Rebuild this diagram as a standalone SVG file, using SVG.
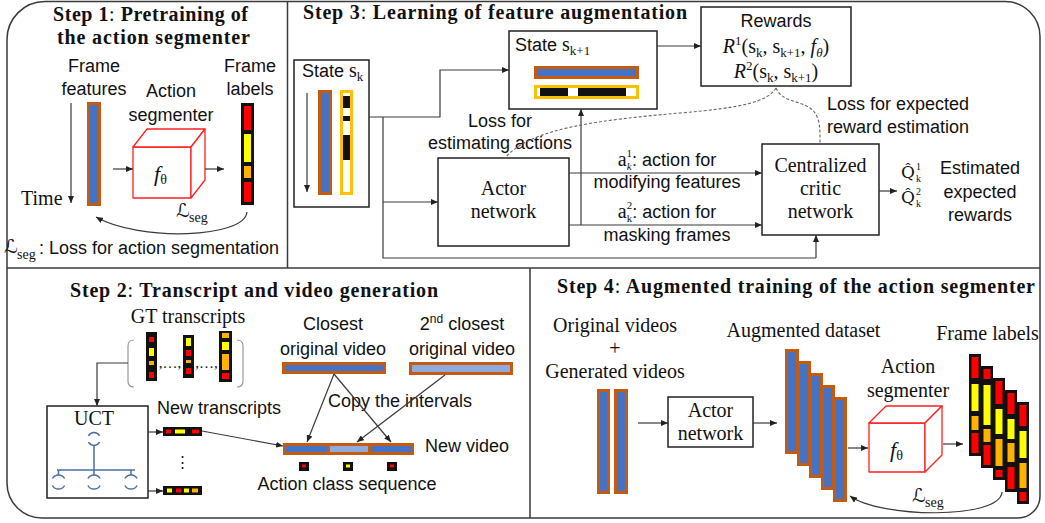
<svg xmlns="http://www.w3.org/2000/svg" width="1045" height="523" viewBox="0 0 1045 523">
<style>
  .sans{font-family:"Liberation Sans",Arial,sans-serif;font-size:18px;fill:#111}
  .serif{font-family:"Liberation Serif","Times New Roman",serif;font-size:20px;fill:#111}
  .title{font-family:"Liberation Serif","Times New Roman",serif;font-size:20px;font-weight:bold;fill:#111}
  .scr{font-family:"DejaVu Serif","DejaVu Sans",serif;fill:#111}
  .sub{font-family:"Liberation Serif","Times New Roman",serif;font-size:13px;fill:#111}
  .tiny{font-family:"Liberation Serif","Times New Roman",serif;font-size:10px;fill:#111}
  .mid{text-anchor:middle}
  .frame{fill:none;stroke:#3a3a3a;stroke-width:1.5}
  .box{fill:#fff;stroke:#222;stroke-width:1.5}
  .conn{fill:none;stroke:#3a3a3a;stroke-width:1.2}
  .arr{marker-end:url(#ah)}
  .dash{fill:none;stroke:#666;stroke-width:1.1;stroke-dasharray:3 2}
  .feat{fill:#4472C4;stroke:#C55A11;stroke-width:3}
  .feat2{fill:#8FAADC;stroke:#C55A11;stroke-width:3}
  .mask{fill:#fff;stroke:#FFC000;stroke-width:3}
  .blk{fill:#111}
  .r{fill:#FF0000}.y{fill:#FFFF00}.o{fill:#FFB300}
  .cube{fill:#fff;stroke:#FF2020;stroke-width:1.3;stroke-linejoin:round}
  .tree{fill:none;stroke:#4A6EA8;stroke-width:1.5}
  .brk{fill:none;stroke:#999;stroke-width:1.2}
</style>
<defs>
  <marker id="ah" markerWidth="7" markerHeight="6" refX="7" refY="3" orient="auto" markerUnits="userSpaceOnUse">
    <path d="M0,0 L7,3 L0,6 z" fill="#222"/>
  </marker>
</defs>

<!-- outer frame and panel dividers -->
<g id="panels">
  <path class="frame" d="M45 1.5 H1005 A35 35 0 0 1 1040 36.5 V496 A22 22 0 0 1 1018 518 H42 A35 35 0 0 1 7 483 V39.5 A38 38 0 0 1 45 1.5 Z"/>
  <line class="frame" x1="287.5" y1="1.5" x2="287.5" y2="268"/>
  <line class="frame" x1="7" y1="268" x2="1040" y2="268"/>
  <line class="frame" x1="530" y1="268" x2="530" y2="518"/>
</g>

<!-- ===== Step 1 ===== -->
<g id="step1-title">
  <text class="title" x="53" y="21" textLength="195">Step 1<tspan font-weight="normal">:</tspan> Pretraining of</text>
  <text class="title" x="57" y="44" textLength="193">the action segmenter</text>
</g>
<g id="step1-features">
  <text class="sans mid" x="94" y="72">Frame</text>
  <text class="sans mid" x="94" y="95">features</text>
  <rect class="feat" x="88.5" y="103.5" width="11" height="101"/>
  <text class="serif" x="21" y="205">Time</text>
</g>
<g id="step1-segmenter">
  <text class="sans mid" x="171" y="97">Action</text>
  <text class="sans mid" x="171" y="121">segmenter</text>
  <rect class="cube" x="133" y="147" width="58" height="51"/>
  <polygon class="cube" points="133,147 147,129 205,129 191,147"/>
  <polygon class="cube" points="191,147 205,129 205,180 191,198"/>
  <text class="serif" x="154" y="181" style="font-size:22px;font-style:italic">f<tspan style="font-style:normal;font-size:14px" dy="3">θ</tspan></text>
</g>
<g id="step1-labels">
  <text class="sans mid" x="250" y="72">Frame</text>
  <text class="sans mid" x="250" y="95">labels</text>
  <rect class="blk" x="241" y="103" width="13" height="102"/>
  <rect class="r" x="244" y="106" width="7" height="24"/>
  <rect class="y" x="244" y="134" width="7" height="28"/>
  <rect class="o" x="244" y="166" width="7" height="12"/>
  <rect class="r" x="244" y="182" width="7" height="20"/>
</g>
<g id="step1-loss">
  <text class="scr" x="176" y="217" style="font-size:19px">ℒ</text>
  <text class="sub" x="189" y="222" style="font-size:14px">seg</text>
  <text class="scr" x="4" y="253" style="font-size:19px">ℒ</text>
  <text class="sub" x="17" y="259" style="font-size:14px">seg</text>
  <text class="sans" x="39" y="254">: Loss for action segmentation</text>
</g>

<!-- ===== Step 3 ===== -->
<g id="step3-title">
  <text class="title" x="303" y="19" textLength="384">Step 3<tspan font-weight="normal">:</tspan> Learning of feature augmentation</text>
</g>
<g id="state-k">
  <rect class="box" x="294" y="60" width="75" height="147"/>
  <text class="sans" x="302" y="77">State <tspan style="font-family:'Liberation Serif',serif;font-size:20px">s</tspan><tspan style="font-family:'Liberation Serif',serif;font-size:13px" dy="4">k</tspan></text>
  <rect class="feat" x="319.5" y="91.5" width="11" height="102"/>
  <rect class="mask" x="341.5" y="91.5" width="10" height="102"/>
  <rect class="blk" x="343" y="96" width="7" height="12"/>
  <rect class="blk" x="343" y="116" width="7" height="5"/>
  <rect class="blk" x="343" y="135" width="7" height="25"/>
</g>
<g id="state-k1">
  <rect class="box" x="509" y="31" width="148" height="78"/>
  <text class="sans" x="515" y="51">State <tspan style="font-family:'Liberation Serif',serif;font-size:20px">s</tspan><tspan style="font-family:'Liberation Serif',serif;font-size:13px" dy="4">k+1</tspan></text>
  <rect class="feat" x="535.5" y="67.5" width="102" height="10"/>
  <rect class="mask" x="535.5" y="86.5" width="102" height="11"/>
  <rect class="blk" x="540" y="88" width="28" height="8"/>
  <rect class="blk" x="578" y="88" width="48" height="8"/>
</g>
<g id="rewards">
  <rect class="box" x="701" y="7" width="150" height="79"/>
  <text class="sans mid" x="776" y="27">Rewards</text>
  <text class="serif mid" x="776" y="53"><tspan style="font-style:italic">R</tspan><tspan style="font-size:13px" dy="-8">1</tspan><tspan dy="8">(s</tspan><tspan style="font-size:13px" dy="4">k</tspan><tspan dy="-4">, s</tspan><tspan style="font-size:13px" dy="4">k+1</tspan><tspan dy="-4">, </tspan><tspan style="font-style:italic">f</tspan><tspan style="font-size:13px;font-style:italic" dy="4">θ</tspan><tspan dy="-4">)</tspan></text>
  <text class="serif mid" x="776" y="78"><tspan style="font-style:italic">R</tspan><tspan style="font-size:13px" dy="-8">2</tspan><tspan dy="8">(s</tspan><tspan style="font-size:13px" dy="4">k</tspan><tspan dy="-4">, s</tspan><tspan style="font-size:13px" dy="4">k+1</tspan><tspan dy="-4">)</tspan></text>
</g>
<g id="actor">
  <rect class="box" x="438" y="158" width="131" height="88"/>
  <text class="serif mid" x="503.5" y="195">Actor</text>
  <text class="serif mid" x="503.5" y="218">network</text>
</g>
<g id="critic">
  <rect class="box" x="762" y="144" width="117" height="91"/>
  <text class="serif mid" x="820.5" y="172">Centralized</text>
  <text class="serif mid" x="820.5" y="195">critic</text>
  <text class="serif mid" x="820.5" y="218">network</text>
</g>
<g id="estimates">
  <text class="scr" x="901" y="178" style="font-size:17px">Q̂</text>
  <text class="tiny" x="916" y="170">1</text>
  <text class="tiny" x="916" y="182">k</text>
  <text class="scr" x="901" y="203" style="font-size:17px">Q̂</text>
  <text class="tiny" x="916" y="195">2</text>
  <text class="tiny" x="916" y="207">k</text>
  <text class="sans mid" x="980" y="174">Estimated</text>
  <text class="sans mid" x="980" y="198">expected</text>
  <text class="sans mid" x="980" y="221">rewards</text>
</g>
<g id="step3-labels">
  <text class="sans mid" x="500" y="127">Loss for</text>
  <text class="sans mid" x="500" y="149">estimating actions</text>
  <text class="sans mid" x="898" y="110">Loss for expected</text>
  <text class="sans mid" x="898" y="133">reward estimation</text>
  <text class="sans mid" x="667" y="166"><tspan style="font-family:'Liberation Serif',serif;font-size:20px">a</tspan><tspan style="font-family:'Liberation Serif',serif;font-size:11px;font-style:italic" dy="4">k</tspan><tspan style="font-family:'Liberation Serif',serif;font-size:11px" dx="-5" dy="-13">1</tspan><tspan dy="9">: action for</tspan></text>
  <text class="sans mid" x="667" y="188">modifying features</text>
  <text class="sans mid" x="667" y="218"><tspan style="font-family:'Liberation Serif',serif;font-size:20px">a</tspan><tspan style="font-family:'Liberation Serif',serif;font-size:11px" dy="4">k</tspan><tspan style="font-family:'Liberation Serif',serif;font-size:11px" dx="-5.5" dy="-13">2</tspan><tspan dy="9">: action for</tspan></text>
  <text class="sans mid" x="667" y="241">masking frames</text>
</g>

<!-- ===== Step 2 ===== -->
<g id="step2-title">
  <text class="title" x="70" y="297" textLength="368">Step 2<tspan font-weight="normal">:</tspan> Transcript and video generation</text>
</g>
<g id="gt-transcripts">
  <text class="serif mid" x="188" y="323">GT transcripts</text>
  <path class="brk" d="M134 340 Q128 340 128 346 V381 Q128 387 134 387"/>
  <path class="brk" d="M237 340 Q243 340 243 346 V381 Q243 387 237 387"/>
  <rect class="blk" x="146" y="332" width="11" height="49"/>
  <rect class="r" x="149" y="337" width="5" height="5"/>
  <rect class="y" x="149" y="348" width="5" height="8"/>
  <rect class="o" x="149" y="361" width="5" height="4"/>
  <rect class="r" x="149" y="372" width="5" height="6"/>
  <rect class="blk" x="183" y="335" width="11" height="43"/>
  <rect class="y" x="186" y="338" width="5" height="8"/>
  <rect class="r" x="186" y="350" width="5" height="6"/>
  <rect class="o" x="186" y="360" width="5" height="3"/>
  <rect class="r" x="186" y="368" width="5" height="6"/>
  <rect class="blk" x="219" y="331" width="13" height="51"/>
  <rect class="o" x="222" y="333" width="7" height="5"/>
  <rect class="y" x="222" y="342" width="7" height="8"/>
  <rect class="o" x="222" y="354" width="7" height="16"/>
  <rect class="r" x="222" y="373" width="7" height="6"/>
  <text class="serif mid" x="170" y="368" style="font-size:15px">,…,</text>
  <text class="serif mid" x="206.5" y="368" style="font-size:15px">,…,</text>
</g>
<g id="uct">
  <rect class="box" x="47" y="406" width="101" height="92"/>
  <text class="serif mid" x="94" y="425">UCT</text>
  <path class="tree" d="M88.4 435.8 A6.5 6.5 0 0 1 99.6 435.8 M88.4 442.2 A6.5 6.5 0 0 0 99.6 442.2"/>
  <path class="tree" d="M94 445.5 V470 M57 470 H135 M58.5 470 V475 M94 470 V475 M131 470 V475"/>
  <path class="tree" d="M52.4 478.5 A7 7 0 0 1 64.6 478.5 M52.4 485.5 A7 7 0 0 0 64.6 485.5"/>
  <path class="tree" d="M87.9 478.5 A7 7 0 0 1 100.1 478.5 M87.9 485.5 A7 7 0 0 0 100.1 485.5"/>
  <path class="tree" d="M124.9 478.5 A7 7 0 0 1 137.1 478.5 M124.9 485.5 A7 7 0 0 0 137.1 485.5"/>
</g>
<g id="new-transcripts">
  <text class="sans" x="157" y="414">New transcripts</text>
  <rect class="blk" x="163" y="427" width="39" height="9"/>
  <rect class="r" x="166" y="429.5" width="5" height="4"/>
  <rect class="y" x="175" y="429.5" width="10" height="4"/>
  <rect class="r" x="192" y="429.5" width="7" height="4"/>
  <text class="sans mid" x="182" y="467" style="font-size:15px">⋮</text>
  <rect class="blk" x="163" y="486" width="39" height="9"/>
  <rect class="y" x="167" y="488.5" width="5" height="4"/>
  <rect class="r" x="176" y="488.5" width="5" height="4"/>
  <rect class="y" x="184" y="488.5" width="5" height="4"/>
  <rect class="o" x="192" y="488.5" width="6" height="4"/>
</g>
<g id="closest-videos">
  <text class="sans mid" x="333" y="330">Closest</text>
  <text class="sans mid" x="333" y="355">original video</text>
  <rect class="feat" x="283.5" y="363.5" width="101" height="9"/>
  <text class="sans mid" x="462" y="330">2<tspan style="font-size:12px" dy="-7">nd</tspan><tspan dy="7"> closest</tspan></text>
  <text class="sans mid" x="462" y="355">original video</text>
  <rect class="feat2" x="410.5" y="363.5" width="101" height="10"/>
  <text class="sans" x="328" y="407">Copy the intervals</text>
</g>
<g id="new-video">
  <rect x="283" y="443" width="131" height="12" fill="#C55A11"/>
  <rect x="286" y="446" width="41" height="6" fill="#4472C4"/>
  <rect x="330" y="446" width="38" height="6" fill="#8FAADC"/>
  <rect x="371" y="446" width="40" height="6" fill="#4472C4"/>
  <text class="sans" x="425" y="452">New video</text>
  <rect class="blk" x="299" y="462" width="10" height="9"/>
  <rect class="r" x="302" y="464.5" width="4" height="3"/>
  <rect class="blk" x="343" y="462" width="10" height="9"/>
  <rect class="y" x="346" y="464.5" width="4" height="3"/>
  <rect class="blk" x="387" y="462" width="10" height="9"/>
  <rect class="r" x="390" y="464.5" width="4" height="3"/>
  <text class="sans mid" x="347" y="490">Action class sequence</text>
</g>

<!-- ===== Step 4 ===== -->
<g id="step4-title">
  <text class="title" x="557" y="293" textLength="478">Step 4<tspan font-weight="normal">:</tspan> Augmented training of the action segmenter</text>
</g>
<g id="input-videos">
  <text class="serif mid" x="615" y="332">Original videos</text>
  <text class="serif mid" x="615" y="355">+</text>
  <text class="serif mid" x="615" y="378">Generated videos</text>
  <rect class="feat" x="598.5" y="390.5" width="10" height="102"/>
  <rect class="feat" x="615.5" y="390.5" width="11" height="102"/>
</g>
<g id="actor-4">
  <rect class="box" x="668" y="397" width="85" height="50"/>
  <text class="serif mid" x="710.5" y="417">Actor</text>
  <text class="serif mid" x="710.5" y="440">network</text>
</g>
<g id="augmented-dataset">
  <text class="serif mid" x="803.5" y="337">Augmented dataset</text>
  <rect class="feat" x="786.5" y="350.5" width="11" height="102"/>
  <rect class="feat" x="798.5" y="362.5" width="11" height="102"/>
  <rect class="feat" x="810.5" y="374.5" width="11" height="102"/>
  <rect class="feat" x="822.5" y="386.5" width="11" height="102"/>
  <rect class="feat" x="834.5" y="398.5" width="11" height="102"/>
</g>
<g id="segmenter-4">
  <text class="serif mid" x="908" y="373">Action</text>
  <text class="serif mid" x="908" y="397">segmenter</text>
  <rect class="cube" x="869" y="423" width="56" height="49"/>
  <polygon class="cube" points="869,423 886,406 942,406 925,423"/>
  <polygon class="cube" points="925,423 942,406 942,455 925,472"/>
  <text class="serif" x="890" y="457" style="font-size:22px;font-style:italic">f<tspan style="font-style:normal;font-size:14px" dy="3">θ</tspan></text>
</g>
<g id="frame-labels-4">
  <text class="serif mid" x="987.5" y="340">Frame labels</text>
  <g transform="translate(969,354)">
    <rect class="blk" width="12" height="102"/>
    <rect class="r" x="2.5" y="3" width="7" height="21"/>
    <rect class="y" x="2.5" y="30" width="7" height="27"/>
    <rect class="o" x="2.5" y="62" width="7" height="14"/>
    <rect class="r" x="2.5" y="79" width="7" height="20"/>
  </g>
  <g transform="translate(981,366)">
    <rect class="blk" width="12" height="102"/>
    <rect class="r" x="2.5" y="3" width="7" height="10"/>
    <rect class="y" x="2.5" y="19" width="7" height="40"/>
    <rect class="o" x="2.5" y="63" width="7" height="13"/>
    <rect class="r" x="2.5" y="79" width="7" height="20"/>
  </g>
  <g transform="translate(993,378)">
    <rect class="blk" width="12" height="102"/>
    <rect class="r" x="2.5" y="3" width="7" height="23"/>
    <rect class="y" x="2.5" y="31" width="7" height="25"/>
    <rect class="o" x="2.5" y="61" width="7" height="27"/>
    <rect class="r" x="2.5" y="92" width="7" height="7"/>
  </g>
  <g transform="translate(1005,390)">
    <rect class="blk" width="12" height="102"/>
    <rect class="r" x="2.5" y="3" width="7" height="21"/>
    <rect class="y" x="2.5" y="29" width="7" height="20"/>
    <rect class="o" x="2.5" y="53" width="7" height="19"/>
    <rect class="r" x="2.5" y="77" width="7" height="22"/>
  </g>
  <g transform="translate(1017,402)">
    <rect class="blk" width="12" height="102"/>
    <rect class="r" x="2.5" y="3" width="7" height="21"/>
    <rect class="y" x="2.5" y="29" width="7" height="27"/>
    <rect class="o" x="2.5" y="61" width="7" height="25"/>
    <rect class="r" x="2.5" y="90" width="7" height="9"/>
  </g>
</g>
<g id="loss-4">
  <text class="scr" x="912" y="502" style="font-size:19px">ℒ</text>
  <text class="sub" x="925" y="507" style="font-size:14px">seg</text>
</g>

<!-- ===== connectors ===== -->
<g id="connectors">
  <!-- step 1 -->
  <line class="conn arr" x1="71" y1="103" x2="71" y2="203"/>
  <line class="conn arr" x1="113" y1="169" x2="133" y2="169"/>
  <line class="conn arr" x1="205" y1="169" x2="224" y2="169"/>
  <path class="conn arr" d="M247 212 C245 238 140 242 96 217"/>
  <!-- step 3 -->
  <line class="conn arr" x1="307" y1="93" x2="307" y2="192"/>
  <path class="conn arr" d="M369 117 H440 V70 H509"/>
  <path class="conn" d="M383 117 V258 H816"/>
  <path class="conn arr" d="M383 202 H438"/>
  <path class="conn arr" d="M816 258 V235"/>
  <line class="conn arr" x1="657" y1="46" x2="701" y2="46"/>
  <line class="conn arr" x1="569" y1="173" x2="762" y2="173"/>
  <line class="conn arr" x1="569" y1="225" x2="762" y2="225"/>
  <line class="conn arr" x1="581" y1="225" x2="581" y2="109"/>
  <line class="conn arr" x1="879" y1="191" x2="897" y2="191"/>
  <path class="dash" d="M776 88 C768 102 740 108 680 113 C600 120 530 128 505 158"/>
  <path class="dash" d="M776 88 C782 102 798 100 810 108 C821 116 820 130 820 144"/>
  <!-- step 2 -->
  <path class="conn arr" d="M128 363 H97 V406"/>
  <line class="conn arr" x1="148" y1="432" x2="163" y2="432"/>
  <line class="conn arr" x1="148" y1="491" x2="163" y2="491"/>
  <line class="conn arr" x1="202" y1="431" x2="283" y2="446"/>
  <line class="conn arr" x1="334" y1="374" x2="307" y2="442"/>
  <line class="conn arr" x1="334" y1="374" x2="391" y2="442"/>
  <line class="conn arr" x1="445" y1="375" x2="357" y2="442"/>
  <!-- step 4 -->
  <line class="conn arr" x1="638" y1="423" x2="668" y2="423"/>
  <line class="conn arr" x1="753" y1="423" x2="777" y2="423"/>
  <line class="conn arr" x1="848" y1="448" x2="868" y2="448"/>
  <line class="conn arr" x1="943" y1="444" x2="963" y2="444"/>
  <path class="conn arr" d="M1002 492 C1000 520 880 518 850 496"/>
</g>
</svg>
